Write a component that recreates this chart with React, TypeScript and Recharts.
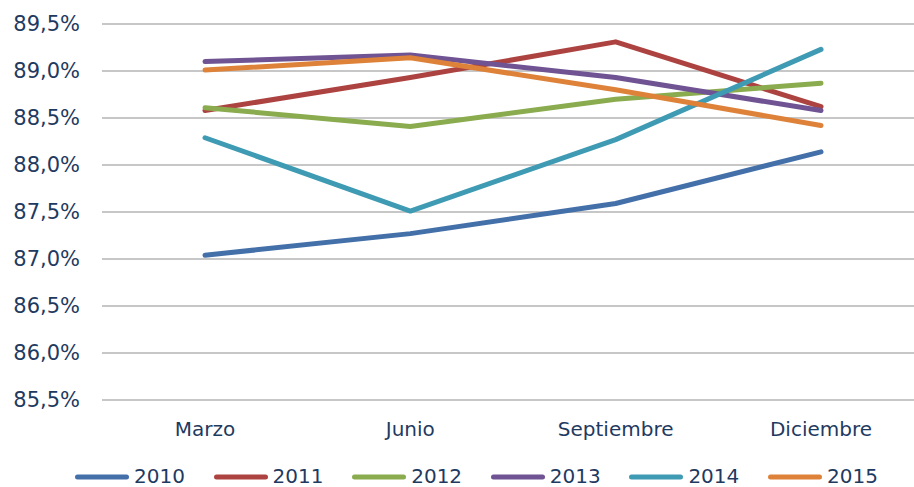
import { LineChart, Line, XAxis, YAxis, CartesianGrid, Legend } from 'recharts';

const months = ['Marzo', 'Junio', 'Septiembre', 'Diciembre'];
const years = ['2010', '2011', '2012', '2013', '2014', '2015'];

const s2010 = [87.04, 87.27, 87.59, 88.14];
const s2011 = [88.58, 88.93, 89.31, 88.62];
const s2012 = [88.61, 88.41, 88.7, 88.87];
const s2013 = [89.1, 89.17, 88.93, 88.58];
const s2014 = [88.29, 87.51, 88.27, 89.23];
const s2015 = [89.01, 89.14, 88.8, 88.42];

const yTicks = [85.5, 86, 86.5, 87, 87.5, 88, 88.5, 89, 89.5];

const colors = ['#4470aa', '#ad4340', '#8aab4e', '#6f5392', '#3e9bb3', '#de823a'];
const textColor = '#1f3a5f';
const font = '"DejaVu Sans", Verdana, sans-serif';

const allSeries = [s2010, s2011, s2012, s2013, s2014, s2015];

const data = months.map((m, i) => {
  const row: Record<string, any> = { month: m };
  years.forEach((y, k) => {
    row[y] = allSeries[k][i];
  });
  return row;
});

const fmt = (v: number) => v.toFixed(1).replace('.', ',') + '%';

function LegendBox() {
  return (
    <div style={{ display: 'flex', fontFamily: font, fontSize: 20, color: textColor, lineHeight: '19px', height: 19 }}>
      {years.map((y, k) => (
        <div key={y} style={{ width: 138.6, display: 'flex', alignItems: 'center' }}>
          <svg width={54} height={10}>
            <line x1={2.5} y1={5} x2={51.5} y2={5} stroke={colors[k]} strokeWidth={5} strokeLinecap="round" />
          </svg>
          <span style={{ marginLeft: 5 }}>{y}</span>
        </div>
      ))}
    </div>
  );
}

export default function App() {
  return (
    <div style={{ position: 'absolute', left: 0, top: 0, width: 914, height: 487, overflow: 'hidden', background: '#fff' }}>
      <LineChart width={930} height={487} data={data} margin={{ top: 24, right: 6, left: 0, bottom: 57 }}>
        <CartesianGrid vertical={false} stroke="#8f8f8f" strokeWidth={1.2} />
        <XAxis
          dataKey="month"
          axisLine={false}
          tickLine={false}
          height={30}
          tickMargin={16}
          padding={{ left: 103, right: 103 }}
          tick={{ fill: textColor, fontSize: 20, fontFamily: font }}
        />
        <YAxis
          domain={[85.5, 89.5]}
          ticks={yTicks}
          width={102}
          axisLine={false}
          tickLine={false}
          tickMargin={16}
          tickFormatter={fmt}
          tick={{ fill: textColor, fontSize: 21, fontFamily: font }}
        />
        <Legend
          layout="horizontal"
          verticalAlign="middle"
          content={() => <LegendBox />}
          wrapperStyle={{ left: 75, top: 467, width: 850, height: 19 }}
        />
        {years.map((y, k) => (
          <Line
            key={y}
            type="linear"
            dataKey={y}
            stroke={colors[k]}
            strokeWidth={5}
            strokeLinecap="round"
            strokeLinejoin="round"
            dot={false}
            activeDot={false}
            isAnimationActive={false}
          />
        ))}
      </LineChart>
    </div>
  );
}
